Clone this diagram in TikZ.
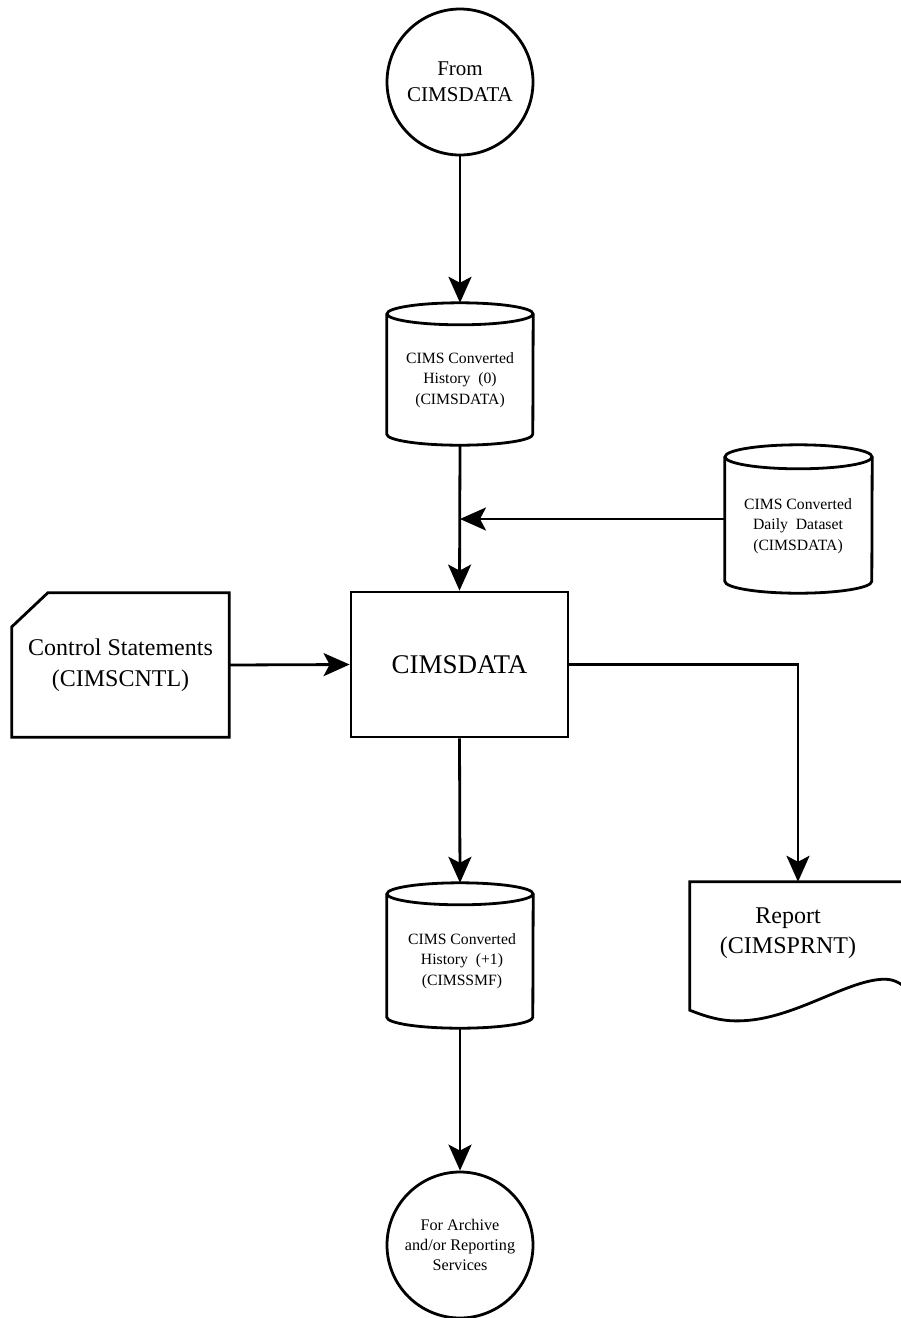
\documentclass[tikz,border=0pt]{standalone}
\usepackage{fontspec}
\setmainfont{Liberation Serif}
\usetikzlibrary{arrows.meta,calc}
\tikzset{
  lw/.style={line width=2.8pt},
  flow/.style={lw,-{Stealth[length=26pt,width=23pt,inset=6pt]}},
  term/.style={circle,draw,lw,minimum size=146pt,inner sep=0pt,align=center},
  geom/.style={draw=none,inner sep=0pt,minimum width=146pt},
  cyltext/.style={align=center,inner sep=0pt,font=\fontsize{15.7}{20.5}\selectfont},
}
\newcommand\cylpath[3]{%
  \draw[lw] ($(#1.north west)+(0,-#3)$) -- ($(#1.south west)+(0,#3)$)
    arc[start angle=180,end angle=360,x radius=#2,y radius=#3]
    -- ($(#1.north east)+(0,-#3)$);
  \draw[lw] ($(#1.north)+(0,-#3)$) ellipse[x radius=#2,y radius=#3];
}
\begin{document}
\begin{tikzpicture}[x=1pt,y=1pt]
\useasboundingbox (0,0) rectangle (901,-1318);
\clip (0,0) rectangle (901,-1318);

% terminals
\node[term,font=\fontsize{21}{26}\selectfont] (src) at (460,-82) {From\\CIMSDATA};
\node[term,font=\fontsize{16.2}{20}\selectfont] (arch) at (460,-1245) {For Archive\\and/or Reporting\\Services};

% cylinders
\node[geom,minimum height=142pt] (h0) at (460,-374) {};
\cylpath{h0}{73}{11}
\node[cyltext] (h0t) at (460,-380) {CIMS Converted\\History\ \ (0)\\(CIMSDATA)};

\node[geom,minimum height=148pt,minimum width=147pt] (dd) at (798.5,-519) {};
\cylpath{dd}{73.5}{12}
\node[cyltext] (ddt) at (798,-526) {CIMS Converted\\Daily\ \ Dataset\\(CIMSDATA)};

\node[geom,minimum height=145pt] (h1) at (460,-955.5) {};
\cylpath{h1}{73}{11}
\node[cyltext] (h1t) at (462,-961) {CIMS Converted\\History\ \ (+1)\\(CIMSSMF)};

% process box
\node[draw,lw,minimum width=217pt,minimum height=145pt,inner sep=0pt,
      font=\fontsize{27}{32}\selectfont] (prog) at (459.5,-664.5) {CIMSDATA};

% card
\node[geom,minimum width=217pt,minimum height=144pt,align=center,
      font=\fontsize{24}{31}\selectfont] (card) at (120.5,-665) {Control Statements\\(CIMSCNTL)};
\draw[lw] ($(card.north west)+(36,0)$) -- (card.north east) -- (card.south east)
  -- (card.south west) -- ($(card.north west)+(0,-34)$) -- cycle;

% document
\node[geom,minimum width=216pt,minimum height=128pt] (rep) at (798,-946) {};
\draw[lw] (rep.north east) -- (rep.north west) -- (rep.south west)
  .. controls ($(rep.south west)+(25,-10)$) and ($(rep.south west)+(40,-12)$) .. ($(rep.south west)+(60,-10)$)
  .. controls ($(rep.south west)+(110,-5)$) and ($(rep.south west)+(160,31)$) .. ($(rep.south west)+(195,31)$)
  .. controls ($(rep.south west)+(205,31)$) and ($(rep.south west)+(212,26)$) .. ($(rep.south west)+(216,22)$)
  -- (rep.north east);
\node[align=center,font=\fontsize{24}{30}\selectfont] (rept) at (788,-933) {Report\\(CIMSPRNT)};

% connectors
\draw[flow] (src.south) -- (h0.north);
\draw[flow] (h0.south) -- (prog.north);
\coordinate (j) at (h0.south |- dd.west);
\draw[flow] (dd.west) -- (j);
\draw[flow] (card.east) -- (prog.west);
\draw[flow] (prog.east) -| (rep.north);
\draw[flow] (prog.south) -- (h1.north);
\draw[flow] (h1.south) -- (arch.north);
\end{tikzpicture}
\end{document}
